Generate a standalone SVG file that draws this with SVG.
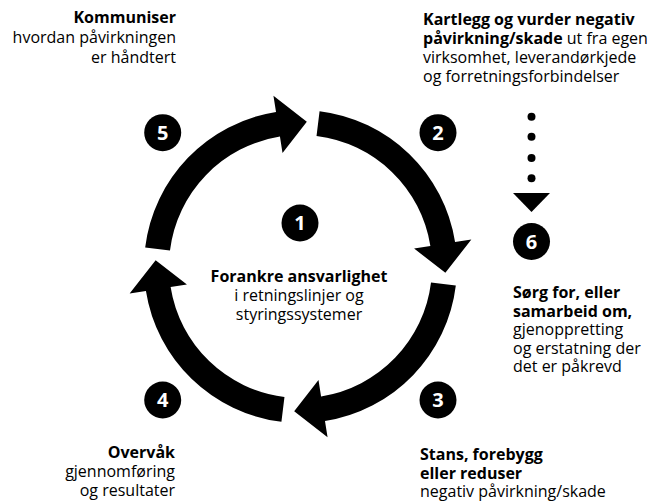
<svg xmlns="http://www.w3.org/2000/svg" width="656" height="503" viewBox="0 0 656 503">
<style>
  text { font-family: "Open Sans", "Liberation Sans", sans-serif; font-size: 16px; fill: #000; }
  .b { font-weight: 700; }
  .num { font-weight: 700; font-size: 20px; fill: #fff; text-anchor: middle; }
  .badge { fill: #000; }
  .arrow { fill: #000; }
  .r { text-anchor: end; }
  .m { text-anchor: middle; }
</style>
<defs>
  <path id="cyc" d="M319.57,111.17 A156.5,156.5 0 0 1 455.07,242.02 L471.37,239.44 L445.36,272.82 L414.08,248.51 L430.38,245.93 A131.5,131.5 0 0 0 316.53,135.98 Z"/>
</defs>
<rect width="656" height="503" fill="#fff"/>
<g id="connectors">
  <use href="#cyc" class="arrow"/>
  <use href="#cyc" class="arrow" transform="rotate(90 300.5 266.5)"/>
  <use href="#cyc" class="arrow" transform="rotate(180 300.5 266.5)"/>
  <use href="#cyc" class="arrow" transform="rotate(270 300.5 266.5)"/>
  <g id="dotted-to-6">
    <circle cx="531.5" cy="116.7" r="4"/>
    <circle cx="531.5" cy="136.7" r="4"/>
    <circle cx="531.5" cy="158" r="4"/>
    <circle cx="531.5" cy="178.3" r="4"/>
    <polygon points="513,193 550,193 531.5,212"/>
  </g>
</g>
<g id="node1">
  <circle class="badge" cx="300" cy="223" r="18.5"/>
  <text class="num" x="300" y="230">1</text>
  <text class="b m" x="299" y="282">Forankre ansvarlighet</text>
  <text class="m" x="299" y="301">i retningslinjer og</text>
  <text class="m" x="299" y="320">styringssystemer</text>
</g>
<g id="node2">
  <circle class="badge" cx="438" cy="132.7" r="18.5"/>
  <text class="num" x="438" y="139.7">2</text>
  <text class="b" x="423" y="25">Kartlegg og vurder negativ</text>
  <text x="423" y="44"><tspan class="b">påvirkning/skade</tspan> ut fra egen</text>
  <text x="423" y="63">virksomhet, leverandørkjede</text>
  <text x="423" y="82">og forretningsforbindelser</text>
</g>
<g id="node3">
  <circle class="badge" cx="438" cy="400" r="18.5"/>
  <text class="num" x="438" y="407">3</text>
  <text class="b" x="420" y="460">Stans, forebygg</text>
  <text class="b" x="420" y="478.5">eller reduser</text>
  <text x="420" y="497">negativ påvirkning/skade</text>
</g>
<g id="node4">
  <circle class="badge" cx="162.7" cy="400" r="18.5"/>
  <text class="num" x="162.7" y="407">4</text>
  <text class="b r" x="175" y="458">Overvåk</text>
  <text class="r" x="175" y="477">gjennomføring</text>
  <text class="r" x="175" y="496">og resultater</text>
</g>
<g id="node5">
  <circle class="badge" cx="162.7" cy="132.7" r="18.5"/>
  <text class="num" x="162.7" y="139.7">5</text>
  <text class="b r" x="176" y="23">Kommuniser</text>
  <text class="r" x="176" y="43">hvordan påvirkningen</text>
  <text class="r" x="176" y="63">er håndtert</text>
</g>
<g id="node6">
  <circle class="badge" cx="531.5" cy="241.5" r="18.5"/>
  <text class="num" x="531.5" y="248.5">6</text>
  <text class="b" x="513" y="298">Sørg for, eller</text>
  <text class="b" x="513" y="316.5">samarbeid om,</text>
  <text x="513" y="335">gjenoppretting</text>
  <text x="513" y="353.5">og erstatning der</text>
  <text x="513" y="372">det er påkrevd</text>
</g>
</svg>
